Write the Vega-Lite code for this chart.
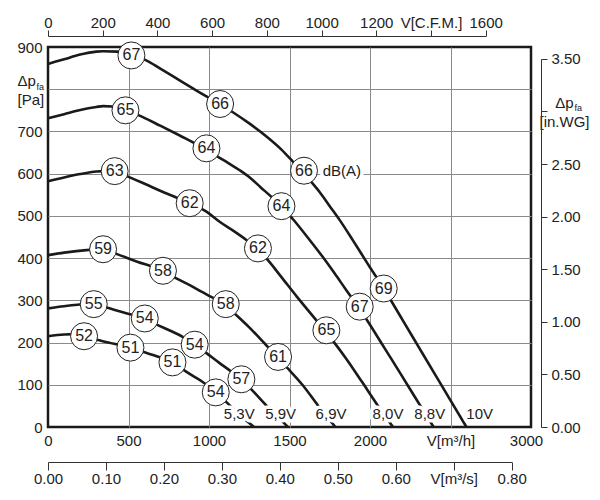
{
  "$schema": "https://vega.github.io/schema/vega-lite/v6.json",
  "width": 483,
  "height": 380,
  "autosize": "none",
  "padding": {"left": 48, "top": 47, "right": 69, "bottom": 73},
  "background": "white",
  "config": {
    "view": {"stroke": "#1a1a1a", "strokeWidth": 2.5},
    "font": "Liberation Sans",
    "axis": {
      "labelFont": "Liberation Sans", "labelFontSize": 15, "labelColor": "#222",
      "titleFont": "Liberation Sans", "titleColor": "#222", "titleFontWeight": "normal",
      "labelFlush": false, "labelOverlap": false, "labelBound": false,
      "domainColor": "#333", "tickColor": "#333", "gridColor": "#8a8a8a", "gridWidth": 1
    }
  },
  "datasets": {
    "curves": [
      {"curve": "10V", "Q": 0, "P": 860}, {"curve": "10V", "Q": 100, "P": 871}, {"curve": "10V", "Q": 200, "P": 882}, {"curve": "10V", "Q": 300, "P": 889}, {"curve": "10V", "Q": 342, "P": 890}, {"curve": "10V", "Q": 430, "P": 889}, {"curve": "10V", "Q": 518, "P": 880}, {"curve": "10V", "Q": 607, "P": 869}, {"curve": "10V", "Q": 700, "P": 848}, {"curve": "10V", "Q": 800, "P": 825}, {"curve": "10V", "Q": 900, "P": 802}, {"curve": "10V", "Q": 984, "P": 783}, {"curve": "10V", "Q": 1067, "P": 765}, {"curve": "10V", "Q": 1146, "P": 746}, {"curve": "10V", "Q": 1250, "P": 719}, {"curve": "10V", "Q": 1357, "P": 688}, {"curve": "10V", "Q": 1450, "P": 657}, {"curve": "10V", "Q": 1522, "P": 628}, {"curve": "10V", "Q": 1580, "P": 604}, {"curve": "10V", "Q": 1636, "P": 580}, {"curve": "10V", "Q": 1688, "P": 556}, {"curve": "10V", "Q": 1750, "P": 523}, {"curve": "10V", "Q": 1812, "P": 490}, {"curve": "10V", "Q": 1894, "P": 442}, {"curve": "10V", "Q": 1990, "P": 384}, {"curve": "10V", "Q": 2085, "P": 328}, {"curve": "10V", "Q": 2200, "P": 255}, {"curve": "10V", "Q": 2300, "P": 191}, {"curve": "10V", "Q": 2400, "P": 127}, {"curve": "10V", "Q": 2500, "P": 63}, {"curve": "10V", "Q": 2599, "P": 0},
      {"curve": "8,8V", "Q": 0, "P": 731}, {"curve": "8,8V", "Q": 100, "P": 741}, {"curve": "8,8V", "Q": 200, "P": 751}, {"curve": "8,8V", "Q": 300, "P": 758}, {"curve": "8,8V", "Q": 342, "P": 760}, {"curve": "8,8V", "Q": 400, "P": 759}, {"curve": "8,8V", "Q": 481, "P": 750}, {"curve": "8,8V", "Q": 565, "P": 738}, {"curve": "8,8V", "Q": 700, "P": 713}, {"curve": "8,8V", "Q": 800, "P": 694}, {"curve": "8,8V", "Q": 911, "P": 672}, {"curve": "8,8V", "Q": 984, "P": 658}, {"curve": "8,8V", "Q": 1056, "P": 640}, {"curve": "8,8V", "Q": 1120, "P": 625}, {"curve": "8,8V", "Q": 1191, "P": 608}, {"curve": "8,8V", "Q": 1253, "P": 591}, {"curve": "8,8V", "Q": 1320, "P": 568}, {"curve": "8,8V", "Q": 1388, "P": 545}, {"curve": "8,8V", "Q": 1450, "P": 523}, {"curve": "8,8V", "Q": 1522, "P": 492}, {"curve": "8,8V", "Q": 1625, "P": 443}, {"curve": "8,8V", "Q": 1700, "P": 406}, {"curve": "8,8V", "Q": 1780, "P": 364}, {"curve": "8,8V", "Q": 1853, "P": 324}, {"curve": "8,8V", "Q": 1936, "P": 280}, {"curve": "8,8V", "Q": 2000, "P": 242}, {"curve": "8,8V", "Q": 2100, "P": 181}, {"curve": "8,8V", "Q": 2200, "P": 120}, {"curve": "8,8V", "Q": 2300, "P": 58}, {"curve": "8,8V", "Q": 2395, "P": 0},
      {"curve": "8,0V", "Q": 0, "P": 582}, {"curve": "8,0V", "Q": 100, "P": 591}, {"curve": "8,0V", "Q": 200, "P": 599}, {"curve": "8,0V", "Q": 300, "P": 605}, {"curve": "8,0V", "Q": 342, "P": 606}, {"curve": "8,0V", "Q": 414, "P": 605}, {"curve": "8,0V", "Q": 497, "P": 593}, {"curve": "8,0V", "Q": 600, "P": 576}, {"curve": "8,0V", "Q": 700, "P": 559}, {"curve": "8,0V", "Q": 800, "P": 543}, {"curve": "8,0V", "Q": 880, "P": 530}, {"curve": "8,0V", "Q": 984, "P": 510}, {"curve": "8,0V", "Q": 1066, "P": 486}, {"curve": "8,0V", "Q": 1150, "P": 465}, {"curve": "8,0V", "Q": 1232, "P": 443}, {"curve": "8,0V", "Q": 1304, "P": 421}, {"curve": "8,0V", "Q": 1366, "P": 395}, {"curve": "8,0V", "Q": 1450, "P": 355}, {"curve": "8,0V", "Q": 1543, "P": 310}, {"curve": "8,0V", "Q": 1640, "P": 265}, {"curve": "8,0V", "Q": 1729, "P": 224}, {"curve": "8,0V", "Q": 1770, "P": 204}, {"curve": "8,0V", "Q": 1850, "P": 163}, {"curve": "8,0V", "Q": 1950, "P": 107}, {"curve": "8,0V", "Q": 2050, "P": 50}, {"curve": "8,0V", "Q": 2143, "P": 0},
      {"curve": "6,9V", "Q": 0, "P": 407}, {"curve": "6,9V", "Q": 100, "P": 413}, {"curve": "6,9V", "Q": 238, "P": 419}, {"curve": "6,9V", "Q": 342, "P": 421}, {"curve": "6,9V", "Q": 425, "P": 410}, {"curve": "6,9V", "Q": 550, "P": 392}, {"curve": "6,9V", "Q": 714, "P": 370}, {"curve": "6,9V", "Q": 797, "P": 352}, {"curve": "6,9V", "Q": 900, "P": 332}, {"curve": "6,9V", "Q": 984, "P": 314}, {"curve": "6,9V", "Q": 1104, "P": 288}, {"curve": "6,9V", "Q": 1170, "P": 265}, {"curve": "6,9V", "Q": 1250, "P": 236}, {"curve": "6,9V", "Q": 1335, "P": 202}, {"curve": "6,9V", "Q": 1429, "P": 163}, {"curve": "6,9V", "Q": 1491, "P": 138}, {"curve": "6,9V", "Q": 1580, "P": 100}, {"curve": "6,9V", "Q": 1677, "P": 51}, {"curve": "6,9V", "Q": 1785, "P": 0},
      {"curve": "5,9V", "Q": 0, "P": 281}, {"curve": "5,9V", "Q": 100, "P": 286}, {"curve": "5,9V", "Q": 197, "P": 290}, {"curve": "5,9V", "Q": 284, "P": 291}, {"curve": "5,9V", "Q": 363, "P": 283}, {"curve": "5,9V", "Q": 480, "P": 270}, {"curve": "5,9V", "Q": 601, "P": 257}, {"curve": "5,9V", "Q": 673, "P": 243}, {"curve": "5,9V", "Q": 760, "P": 228}, {"curve": "5,9V", "Q": 839, "P": 213}, {"curve": "5,9V", "Q": 911, "P": 195}, {"curve": "5,9V", "Q": 984, "P": 175}, {"curve": "5,9V", "Q": 1060, "P": 153}, {"curve": "5,9V", "Q": 1139, "P": 131}, {"curve": "5,9V", "Q": 1201, "P": 113}, {"curve": "5,9V", "Q": 1263, "P": 89}, {"curve": "5,9V", "Q": 1366, "P": 47}, {"curve": "5,9V", "Q": 1491, "P": 0},
      {"curve": "5,3V", "Q": 0, "P": 215}, {"curve": "5,3V", "Q": 100, "P": 219}, {"curve": "5,3V", "Q": 155, "P": 220}, {"curve": "5,3V", "Q": 224, "P": 216}, {"curve": "5,3V", "Q": 311, "P": 206}, {"curve": "5,3V", "Q": 410, "P": 197}, {"curve": "5,3V", "Q": 512, "P": 188}, {"curve": "5,3V", "Q": 590, "P": 178}, {"curve": "5,3V", "Q": 680, "P": 167}, {"curve": "5,3V", "Q": 773, "P": 153}, {"curve": "5,3V", "Q": 839, "P": 136}, {"curve": "5,3V", "Q": 900, "P": 121}, {"curve": "5,3V", "Q": 963, "P": 106}, {"curve": "5,3V", "Q": 1042, "P": 82}, {"curve": "5,3V", "Q": 1108, "P": 59}, {"curve": "5,3V", "Q": 1190, "P": 29}, {"curve": "5,3V", "Q": 1280, "P": 0}
    ],
    "db": [
      {"label": "67", "Q": 518, "P": 880}, {"label": "66", "Q": 1069, "P": 765}, {"label": "66", "Q": 1590, "P": 607}, {"label": "69", "Q": 2085, "P": 328},
      {"label": "65", "Q": 481, "P": 750}, {"label": "64", "Q": 984, "P": 660}, {"label": "64", "Q": 1450, "P": 523}, {"label": "67", "Q": 1936, "P": 285},
      {"label": "63", "Q": 414, "P": 606}, {"label": "62", "Q": 880, "P": 530}, {"label": "62", "Q": 1304, "P": 423}, {"label": "65", "Q": 1729, "P": 229},
      {"label": "59", "Q": 342, "P": 421}, {"label": "58", "Q": 714, "P": 370}, {"label": "58", "Q": 1104, "P": 291}, {"label": "61", "Q": 1429, "P": 166},
      {"label": "55", "Q": 284, "P": 291}, {"label": "54", "Q": 601, "P": 257}, {"label": "54", "Q": 911, "P": 195}, {"label": "57", "Q": 1201, "P": 113},
      {"label": "52", "Q": 224, "P": 215}, {"label": "51", "Q": 512, "P": 188}, {"label": "51", "Q": 773, "P": 153}, {"label": "54", "Q": 1042, "P": 82}
    ],
    "volts": [
      {"label": "5,3V", "Q": 1188, "P": 31}, {"label": "5,9V", "Q": 1445, "P": 31}, {"label": "6,9V", "Q": 1758, "P": 31},
      {"label": "8,0V", "Q": 2112, "P": 31}, {"label": "8,8V", "Q": 2371, "P": 31}, {"label": "10V", "Q": 2681, "P": 31}
    ],
    "unit": [{"label": "dB(A)", "Q": 1706, "P": 607}]
  },
  "layer": [
    {
      "encoding": {
        "x": {
          "field": "Q", "type": "quantitative",
          "scale": {"domain": [0, 3000], "nice": false, "zero": true},
          "axis": {
            "orient": "bottom", "values": [0, 500, 1000, 1500, 2000, 2500, 3000], "format": "d",
            "grid": true,
            "gridOpacity": {"condition": {"test": "datum.value == 0 || datum.value == 3000", "value": 0}, "value": 1},
            "ticks": false, "tickSize": 0, "domain": false, "labelPadding": 6, "title": null,
            "labelOffset": {"condition": {"test": "datum.value == 3000", "value": -5}, "value": 0},
            "labelExpr": "datum.value == 2500 ? 'V[m³/h]' : datum.label"
          }
        },
        "y": {
          "field": "P", "type": "quantitative",
          "scale": {"domain": [0, 900], "nice": false},
          "axis": {
            "orient": "left", "values": [0, 100, 200, 300, 400, 500, 600, 700, 800, 900], "format": "d",
            "grid": true,
            "gridOpacity": {"condition": {"test": "datum.value == 0 || datum.value == 900", "value": 0}, "value": 1},
            "ticks": false, "tickSize": 0, "domain": false,
            "labelPadding": {"condition": {"test": "datum.value == 800", "value": 31}, "value": 6},
            "labelAlign": {"condition": {"test": "datum.value == 800", "value": "left"}, "value": "right"},
            "labelOffset": {"condition": {"test": "datum.value == 800", "value": -9}, "value": 0},
            "labelLineHeight": 19,
            "labelExpr": "datum.value == 800 ? ['Δp', '[Pa]'] : datum.label",
            "title": "fa", "titleFontSize": 9, "titleAngle": 0, "titleX": -12, "titleY": 42,
            "titleAlign": "left", "titleBaseline": "alphabetic"
          }
        }
      },
      "layer": [
        {"data": {"name": "curves"}, "mark": {"type": "line", "interpolate": "monotone", "stroke": "#1a1a1a", "strokeWidth": 2.6}, "encoding": {"detail": {"field": "curve"}}},
        {"data": {"name": "volts"}, "mark": {"type": "text", "fontSize": 15, "fill": "white", "stroke": "white", "strokeWidth": 7, "strokeJoin": "round"}, "encoding": {"text": {"field": "label"}}},
        {"data": {"name": "volts"}, "mark": {"type": "text", "fontSize": 15, "fill": "#222"}, "encoding": {"text": {"field": "label"}}},
        {"data": {"name": "db"}, "mark": {"type": "point", "shape": "circle", "size": 729, "filled": true, "fill": "white", "stroke": "#222", "strokeWidth": 1, "opacity": 1}},
        {"data": {"name": "db"}, "mark": {"type": "text", "fontSize": 16, "fill": "#222"}, "encoding": {"text": {"field": "label"}}},
        {"data": {"name": "unit"}, "mark": {"type": "text", "align": "left", "fontSize": 15, "fill": "white", "stroke": "white", "strokeWidth": 7, "strokeJoin": "round"}, "encoding": {"text": {"field": "label"}}},
        {"data": {"name": "unit"}, "mark": {"type": "text", "align": "left", "fontSize": 15, "fill": "#222"}, "encoding": {"text": {"field": "label"}}}
      ]
    },
    {
      "data": {"values": [{"cfm": 0}, {"cfm": 1600}]},
      "mark": {"type": "point", "opacity": 0},
      "encoding": {
        "x": {
          "field": "cfm", "type": "quantitative",
          "scale": {"domain": [0, 1600], "range": [0, 437.7], "nice": false},
          "axis": {
            "orient": "top", "offset": 11, "values": [0, 200, 400, 600, 800, 1000, 1200, 1400, 1600], "format": "d",
            "tickSize": 6, "labelPadding": 0, "grid": false, "domain": true, "title": null,
            "labelExpr": "datum.value == 1400 ? 'V[C.F.M.]' : datum.label"
          }
        }
      }
    },
    {
      "data": {"values": [{"ms": 0}, {"ms": 0.8}]},
      "mark": {"type": "point", "opacity": 0},
      "encoding": {
        "x": {
          "field": "ms", "type": "quantitative",
          "scale": {"domain": [0, 0.8], "range": [0, 463.7], "nice": false},
          "axis": {
            "orient": "bottom", "offset": 35, "values": [0, 0.1, 0.2, 0.3, 0.4, 0.5, 0.6, 0.7, 0.8],
            "format": ".2f", "tickSize": 8, "labelPadding": 1, "grid": false, "domain": true, "title": null,
            "labelExpr": "datum.value == 0.7 ? 'V[m³/s]' : datum.label"
          }
        }
      }
    },
    {
      "data": {"values": [{"wg": 0}, {"wg": 3.5}]},
      "mark": {"type": "point", "opacity": 0},
      "encoding": {
        "y": {
          "field": "wg", "type": "quantitative",
          "scale": {"domain": [0, 3.5], "range": [380, 11.9], "nice": false},
          "axis": {
            "orient": "right", "offset": 10, "values": [0, 0.5, 1, 1.5, 2, 2.5, 3, 3.5],
            "format": ".2f", "tickSize": 6, "grid": false, "domain": true,
            "labelPadding": {"condition": {"test": "datum.value == 3", "value": 17}, "value": 4},
            "labelAlign": {"condition": {"test": "datum.value == 3", "value": "center"}, "value": "left"},
            "labelOffset": {"condition": {"test": "datum.value == 3", "value": -9}, "value": 0},
            "labelLineHeight": 19,
            "labelExpr": "datum.value == 3 ? ['Δp', '[in.WG]'] : datum.label",
            "title": "fa", "titleFontSize": 9, "titleAngle": 0, "titleX": 33, "titleY": 63,
            "titleAlign": "left", "titleBaseline": "alphabetic"
          }
        }
      }
    }
  ],
  "resolve": {"scale": {"x": "independent", "y": "independent"}}
}
